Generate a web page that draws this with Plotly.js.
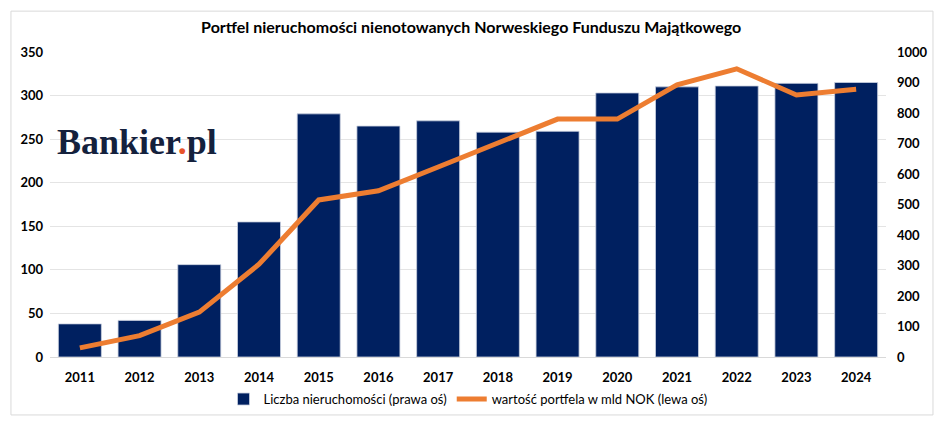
<!DOCTYPE html>
<html>
<head>
<meta charset="utf-8">
<script src="https://cdn.plot.ly/plotly-3.0.1.min.js"></script>
<style>html,body{margin:0;padding:0;background:#fff}#chart{width:948px;height:429px}</style>
</head>
<body>
<div id="chart"></div>
<script>
const years = ['2011','2012','2013','2014','2015','2016','2017','2018','2019','2020','2021','2022','2023','2024'];
const liczbaNieruchomosci = [38, 42, 106, 155, 279, 265, 271, 258, 259, 303, 310, 311, 314, 315];
const wartoscPortfela = [30, 70, 147, 304, 515, 545, 623, 702, 780, 780, 892, 945, 859, 878];
const leftTicks = [0, 50, 100, 150, 200, 250, 300, 350];
const rightTicks = [0, 100, 200, 300, 400, 500, 600, 700, 800, 900, 1000];

const FONT = 'Lato, "Open Sans", sans-serif';

const traces = [
  {
    type: 'bar',
    name: 'Liczba nieruchomości (prawa oś)',
    x: years,
    y: liczbaNieruchomosci,
    yaxis: 'y',
    marker: {color: '#002060', line: {color: '#C9D1E0', width: 0.8}},
    hoverinfo: 'x+y'
  },
  {
    type: 'scatter',
    mode: 'lines',
    name: 'wartość portfela w mld NOK (lewa oś)',
    x: years,
    y: wartoscPortfela,
    yaxis: 'y2',
    line: {color: '#ED7D31', width: 5},
    hoverinfo: 'x+y'
  }
];

const layout = {
  width: 948,
  height: 429,
  margin: {l: 50, r: 62, t: 52, b: 72},
  paper_bgcolor: '#ffffff',
  plot_bgcolor: '#ffffff',
  font: {family: FONT, color: '#000000'},
  title: {
    text: 'Portfel nieruchomości nienotowanych Norweskiego Funduszu Majątkowego',
    font: {family: FONT, size: 16, color: '#000000', weight: 'bold'},
    x: 0.497, xanchor: 'center',
    y: 0.935, yanchor: 'middle'
  },
  bargap: 0.28,
  showlegend: true,
  legend: {
    orientation: 'h',
    x: 0.5, xanchor: 'center',
    y: -0.138, yanchor: 'middle',
    font: {family: FONT, size: 13, color: '#000000'},
    traceorder: 'normal',
    itemwidth: 30
  },
  xaxis: {
    type: 'category',
    tickfont: {family: FONT, size: 13, weight: 'bold', color: '#000000'},
    ticks: '',
    showline: true,
    linecolor: '#D9D9D9',
    linewidth: 1,
    showgrid: false,
    ticklabelstandoff: 8
  },
  yaxis: {
    range: [0, 350],
    tickvals: leftTicks,
    ticktext: leftTicks.map(String),
    tickfont: {family: FONT, size: 13, weight: 'bold', color: '#000000'},
    showgrid: true,
    gridcolor: '#E4E4E4',
    gridwidth: 1,
    zeroline: false,
    showline: false,
    ticks: '',
    ticklabelstandoff: 6
  },
  yaxis2: {
    range: [0, 1000],
    tickvals: rightTicks,
    ticktext: rightTicks.map(String),
    overlaying: 'y',
    side: 'right',
    tickfont: {family: FONT, size: 13, weight: 'bold', color: '#000000'},
    showgrid: false,
    zeroline: false,
    showline: false,
    ticks: '',
    ticklabelstandoff: 10
  },
  shapes: [
    {
      type: 'rect', xref: 'paper', yref: 'paper',
      x0: -0.0467, x1: 1.0562, y0: -0.190, y1: 1.134,
      line: {color: '#D9D9D9', width: 1},
      fillcolor: 'rgba(0,0,0,0)',
      layer: 'below'
    }
  ],
  annotations: [
    {
      xref: 'paper', yref: 'paper',
      x: 0.1035, y: 0.705,
      xanchor: 'center', yanchor: 'middle',
      showarrow: false,
      text: 'Bankier<span style="color:#E8542A">.</span>pl',
      font: {family: '"Liberation Serif", serif', size: 36, color: '#14213D', weight: 'bold'}
    }
  ]
};

Plotly.newPlot('chart', traces, layout, {displayModeBar: false, staticPlot: true});
</script>
</body>
</html>
